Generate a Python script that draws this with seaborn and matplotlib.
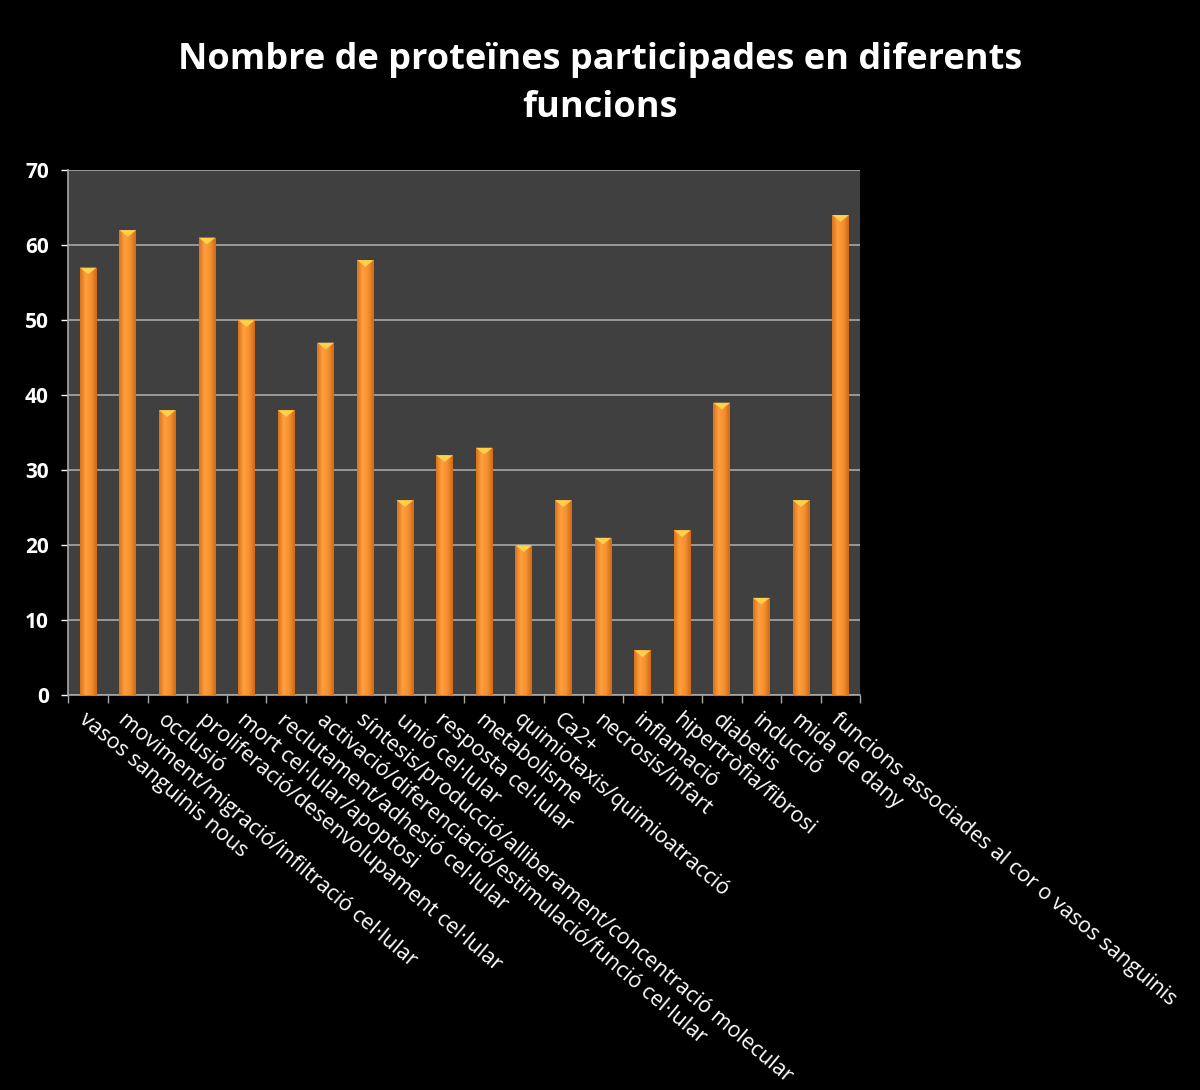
import numpy as np
import pandas as pd
import seaborn as sns
import matplotlib.pyplot as plt
from matplotlib.colors import LinearSegmentedColormap

categories = [
    "vasos sanguinis nous",
    "moviment/migració/infiltració cel·lular",
    "occlusió",
    "proliferació/desenvolupament cel·lular",
    "mort cel·lular/apoptosi",
    "reclutament/adhesió cel·lular",
    "activació/diferenciació/estimulació/funció cel·lular",
    "síntesis/producció/alliberament/concentració molecular",
    "unió cel·lular",
    "resposta cel·lular",
    "metabolisme",
    "quimiotaxis/quimioatracció",
    "Ca2+",
    "necrosis/infart",
    "inflamació",
    "hipertròfia/fibrosi",
    "diabetis",
    "inducció",
    "mida de dany",
    "funcions associades al cor o vasos sanguinis",
]
counts = [57, 62, 38, 61, 50, 38, 47, 58, 26, 32, 33, 20, 26, 21, 6, 22, 39, 13, 26, 64]
yticks = [0, 10, 20, 30, 40, 50, 60, 70]

df = pd.DataFrame({"funcio": categories, "n": counts})

sns.set_style("dark")
plt.rcParams['font.family'] = ['Open Sans', 'DejaVu Sans']

fig = plt.figure(figsize=(12, 10.9), dpi=100, facecolor="black")
ax = fig.add_axes([0.057, 0.362, 0.660, 0.482])
ax.set_facecolor("#404040")

sns.barplot(data=df, x="funcio", y="n", color="#f08a24", width=0.42,
            saturation=1, ax=ax, zorder=3, linewidth=0, edgecolor="none")

# horizontal shading on each bar
cmap = LinearSegmentedColormap.from_list("bar", ["#d9731a", "#ffa040", "#f49030", "#d06a16"])
grad = np.linspace(0, 1, 64).reshape(1, -1)
for p in ax.patches:
    x0, y0 = p.get_x(), p.get_y()
    w, h = p.get_width(), p.get_height()
    im = ax.imshow(grad, cmap=cmap, aspect="auto", extent=(x0, x0 + w, y0, y0 + h),
                   zorder=4, interpolation="bicubic")
    im.set_clip_path(p)
    ax.fill([x0, x0 + w, x0 + w / 2], [y0 + h, y0 + h, y0 + h - 0.9],
            color="#ffd04a", zorder=5, lw=0)

ax.set_xlim(-0.5, len(categories) - 0.5)
ax.set_ylim(0, 70)
ax.set_yticks(yticks)
ax.yaxis.grid(True, color="#a8a8a8", lw=1.2, zorder=1)
ax.xaxis.grid(False)

for side in ["top", "right"]:
    ax.spines[side].set_visible(False)
for side in ["left", "bottom"]:
    ax.spines[side].set_visible(True)
    ax.spines[side].set_color("#a8a8a8")
    ax.spines[side].set_linewidth(1.2)

ax.set_xlabel("")
ax.set_ylabel("")
ax.tick_params(axis="y", colors="white", labelsize=15, length=5, width=1,
               left=True, pad=9)
for lab in ax.get_yticklabels():
    lab.set_fontweight("bold")
    lab.set_color("white")

# category labels under each bar, tick marks between bars
ax.set_xticks(range(len(categories)))
ax.set_xticklabels(categories, rotation=-40, ha="left", rotation_mode="anchor",
                   color="white", fontsize=15.5)
ax.tick_params(axis="x", length=0, pad=10)
ax.set_xticks(np.arange(-0.5, len(categories)), minor=True)
ax.tick_params(axis="x", which="minor", length=6, width=1, color="#a8a8a8", bottom=True)

fig.text(0.5, 0.923, "Nombre de proteïnes participades en diferents\nfuncions",
         ha="center", va="center", color="white", fontsize=26, fontweight="bold",
         linespacing=1.45)

fig.savefig("out.png", dpi=100, facecolor="black")
